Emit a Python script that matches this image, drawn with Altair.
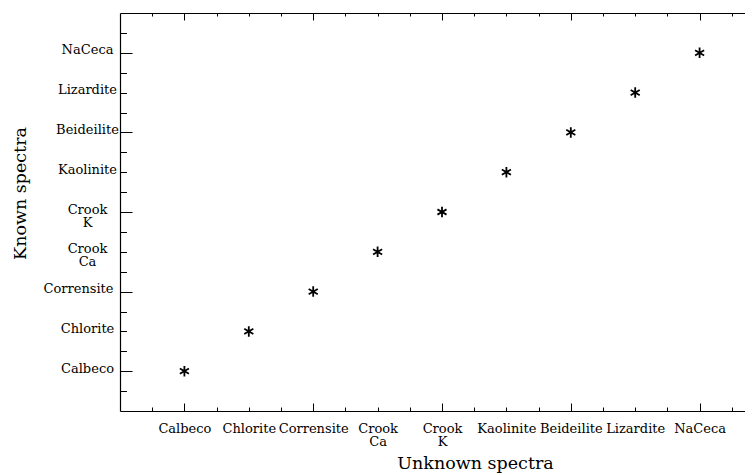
import json
import altair as alt
import pandas as pd

# Category names (same order on both axes)
unknown_names = ["Calbeco", "Chlorite", "Corrensite", "Crook Ca", "Crook K",
                 "Kaolinite", "Beideilite", "Lizardite", "NaCeca"]
known_names = ["Calbeco", "Chlorite", "Corrensite", "Crook Ca", "Crook K",
               "Kaolinite", "Beideilite", "Lizardite", "NaCeca"]

# Matches: position of the unknown spectrum and the known spectrum it matched
unknown_pos = [1, 2, 3, 4, 5, 6, 7, 8, 9]
known_pos = [1, 2, 3, 4, 5, 6, 7, 8, 9]

label_values = [1, 2, 3, 4, 5, 6, 7, 8, 9]
major_ticks = [1, 3, 5, 7, 9]
minor_ticks = [0.5, 1.5, 2, 2.5, 3.5, 4, 4.5, 5.5, 6, 6.5, 7.5, 8, 8.5, 9.5]

df = pd.DataFrame({"x": unknown_pos, "y": known_pos})

W, H = 625, 398
XR = 644  # x range extends past the visible area (frame is cropped on the right)
FONT = "DejaVu Serif"

xs = alt.Scale(domain=[0, 10], range=[0, XR], nice=False, zero=False)
ys = alt.Scale(domain=[0, 10], nice=False, zero=False)

x_expr = "split(" + json.dumps([""] + unknown_names) + "[datum.value], ' ')"
y_expr = "split(" + json.dumps([""] + known_names) + "[datum.value], ' ')"

asterisk = "M0,-1L0,1M-0.866,-0.5L0.866,0.5M-0.866,0.5L0.866,-0.5"

base = alt.Chart(df)


def layer(xaxis, yaxis, mark=None):
    m = mark if mark is not None else base.mark_point(opacity=0)
    return m.encode(
        x=alt.X("x:Q", scale=xs, axis=xaxis),
        y=alt.Y("y:Q", scale=ys, axis=yaxis),
    )


def tick_axis(orient, offset, values, size, domain=False):
    return alt.Axis(orient=orient, offset=offset, values=values, tickSize=size,
                    ticks=True, labels=False, domain=domain, grid=False, title=None,
                    tickColor="black", tickWidth=1, domainColor="black", domainWidth=1.2)


x_label_axis = alt.Axis(
    orient="bottom", values=label_values, labelExpr=x_expr, ticks=False, tickSize=0,
    grid=False, domain=True, domainColor="black", domainWidth=1.2,
    labelFont=FONT, labelFontSize=13, labelColor="black", labelAlign="center",
    labelBaseline="alphabetic", labelPadding=21, labelLineHeight=13,
    labelOverlap=False, labelFlush=False,
    title="Unknown spectra", titleFont=FONT, titleFontSize=17.5, titleFontWeight="normal",
    titleColor="black", titleX=355, titleY=57, titleAlign="center",
    titleBaseline="alphabetic", titleAnchor="middle",
)

y_label_axis = alt.Axis(
    orient="left", values=label_values, labelExpr=y_expr, ticks=False, tickSize=0,
    grid=False, domain=True, domainColor="black", domainWidth=1.2,
    labelFont=FONT, labelFontSize=13, labelColor="black", labelAlign="center",
    labelBaseline="alphabetic", labelOffset=1, labelLineHeight=13,
    labelPadding={"condition": {"test": "datum.value == 3", "value": 42}, "value": 33},
    labelOverlap=False, labelFlush=False,
    title="Known spectra", titleFont=FONT, titleFontSize=17.5, titleFontWeight="normal",
    titleColor="black", titleAngle=270, titleX=-95, titleY=180, titleAlign="center",
    titleBaseline="alphabetic",
)

points = layer(
    x_label_axis, y_label_axis,
    base.mark_point(shape=asterisk, filled=False, color="black", strokeWidth=1.8,
                    size=110, opacity=1),
)

layers = [
    points,
    # bottom frame (inward ticks)
    layer(tick_axis("top", -H, major_ticks, 8), None),
    layer(tick_axis("top", -H, minor_ticks, 4), None),
    # top frame
    layer(tick_axis("bottom", -H, major_ticks, 7, domain=True), None),
    layer(tick_axis("bottom", -H, minor_ticks, 3), None),
    # left frame
    layer(None, tick_axis("right", -W, major_ticks, 12)),
    layer(None, tick_axis("right", -W, minor_ticks, 6.5)),
]

chart = alt.layer(*layers).resolve_axis(x="independent", y="independent").properties(
    width=W, height=H,
    autosize=alt.AutoSizeParams(type="none"),
    padding={"left": 112, "top": 5, "right": 0, "bottom": 62},
    background="white",
).configure_view(stroke=None)

chart.save("out.html", embed_options={"renderer": "svg", "actions": False})
